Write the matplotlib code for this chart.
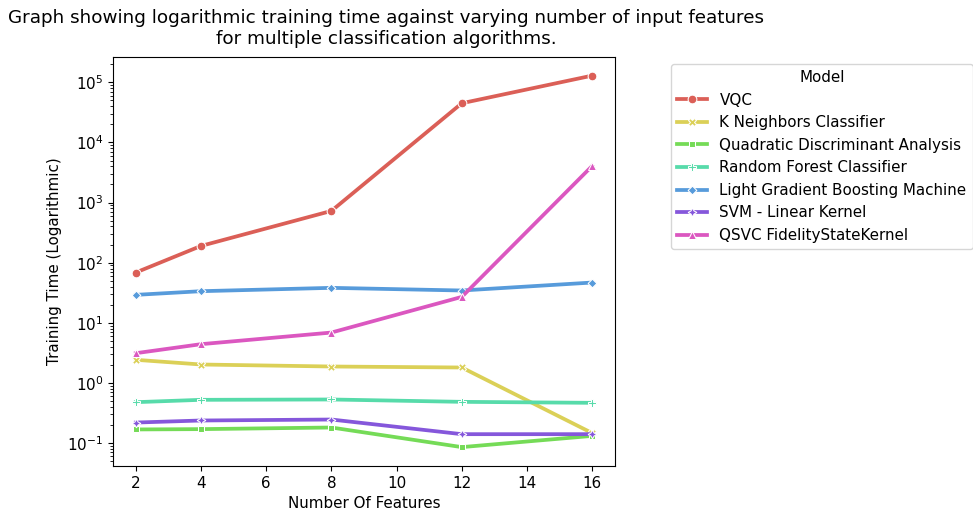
import matplotlib
matplotlib.use("Agg")
import matplotlib.pyplot as plt
import seaborn as sns
import pandas as pd

features = [2, 4, 8, 12, 16]
models = ["VQC", "K Neighbors Classifier", "Quadratic Discriminant Analysis",
          "Random Forest Classifier", "Light Gradient Boosting Machine",
          "SVM - Linear Kernel", "QSVC FidelityStateKernel"]
vqc = [68.7, 190, 726, 44800, 129000]
knn = [2.43, 2.03, 1.88, 1.81, 0.147]
qda = [0.169, 0.171, 0.182, 0.0859, 0.132]
rf = [0.48, 0.525, 0.532, 0.486, 0.468]
lgbm = [29.2, 33.6, 38.2, 34.5, 46.8]
svm = [0.220, 0.238, 0.247, 0.141, 0.141]
qsvc = [3.13, 4.42, 6.9, 27.0, 4060]
series = [vqc, knn, qda, rf, lgbm, svm, qsvc]

rows = []
for m, vals in zip(models, series):
    for f, v in zip(features, vals):
        rows.append({"Model": m, "Number Of Features": f, "Training Time": v})
df = pd.DataFrame(rows)

plt.rcParams["font.size"] = 10.9
plt.rcParams["lines.markersize"] = 6.3

fig = plt.figure(figsize=(9.73, 5.16), dpi=100)
ax = fig.add_axes([113/973, 1-466/516, (615-113)/973, (466-57)/516])
sns.lineplot(data=df, x="Number Of Features", y="Training Time", hue="Model",
             style="Model", markers=True, dashes=False, palette="hls",
             linewidth=2.7, ax=ax)
ax.set_yscale("log")
ax.set_ylim(10**-1.38, 10**5.42)
ax.set_xlim(1.3, 16.7)
ax.set_xticks([2, 4, 6, 8, 10, 12, 14, 16])
ax.set_xlabel("Number Of Features")
ax.set_ylabel("Training Time (Logarithmic)")
leg = ax.legend(title="Model", loc="upper left",
                bbox_to_anchor=(671/973, 1-64/516), bbox_transform=fig.transFigure,
                borderaxespad=0)
fig.text(386/973, 1-9/516,
         "Graph showing logarithmic training time against varying number of input features\n"
         "for multiple classification algorithms.",
         ha="center", va="top", fontsize=13.2)
fig.savefig("out.png", dpi=100)
